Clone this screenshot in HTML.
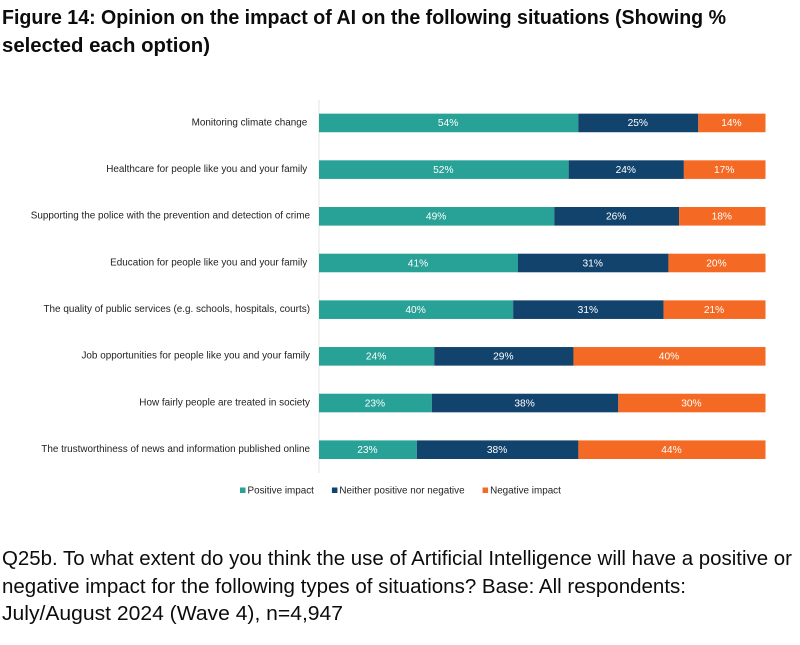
<!DOCTYPE html>
<html lang="en">
<head>
<meta charset="utf-8">
<title>Figure 14</title>
<style>
html,body{margin:0;padding:0;background:#fff;width:800px;height:645px;overflow:hidden}
svg{display:block;font-family:"Liberation Sans",sans-serif}
.head{font-weight:700;font-size:20.5px;fill:#0b0c0c}
.note{font-size:20px;fill:#0b0c0c}
</style>
</head>
<body>
<svg id="chart" width="800" height="645" viewBox="0 0 800 645" xmlns="http://www.w3.org/2000/svg">
  <rect width="800" height="645" fill="#ffffff"/>
  <text class="head" x="2" y="24" textLength="724" lengthAdjust="spacingAndGlyphs">Figure 14: Opinion on the impact of AI on the following situations (Showing %</text>
  <text class="head" x="2" y="52" textLength="208" lengthAdjust="spacingAndGlyphs">selected each option)</text>
  <line x1="319" x2="319" y1="100" y2="473" stroke="#e3e3e3" stroke-width="1"/>
  <g id="bars"></g>
  <g id="labels"></g>
  <g id="legend"></g>
  <text class="note" x="2" y="565" textLength="790" lengthAdjust="spacingAndGlyphs">Q25b. To what extent do you think the use of Artificial Intelligence will have a positive or</text>
  <text class="note" x="2" y="593" textLength="684" lengthAdjust="spacingAndGlyphs">negative impact for the following types of situations? Base: All respondents:</text>
  <text class="note" x="2" y="620" textLength="341" lengthAdjust="spacingAndGlyphs">July/August 2024 (Wave 4), n=4,947</text>
</svg>
<script>
const categories = [
  "Monitoring climate change\u00a0",
  "Healthcare for people like you and your family\u00a0",
  "Supporting the police with the prevention and detection of crime",
  "Education for people like you and your family\u00a0",
  "The quality of public services (e.g. schools, hospitals, courts)",
  "Job opportunities for people like you and your family",
  "How fairly people are treated in society",
  "The trustworthiness of news and information published online"
];
const seriesNames = ["Positive impact", "Neither positive nor negative", "Negative impact"];
const positiveValues = [54, 52, 49, 41, 40, 24, 23, 23];
const neitherValues = [25, 24, 26, 31, 31, 29, 38, 38];
const negativeValues = [14, 17, 18, 20, 21, 40, 30, 44];
const seriesColors = ["#28a197", "#12436d", "#f46a25"];

const NS = "http://www.w3.org/2000/svg";
const plotLeft = 319, plotWidth = 446.5, plotTop = 99.3, rowStep = 46.68, barHeight = 18.6;
const allSeries = [positiveValues, neitherValues, negativeValues];

function xShare(share) { return plotLeft + share * plotWidth; }
function rowCenter(i) { return plotTop + rowStep * (i + 0.5); }

const barsGroup = document.getElementById("bars");
const labelsGroup = document.getElementById("labels");
const legendGroup = document.getElementById("legend");

categories.forEach(function (name, i) {
  const label = document.createElementNS(NS, "text");
  
  
  label.setAttribute("x", 310);
  label.setAttribute("y", rowCenter(i) + 2.7);
  label.setAttribute("text-anchor", "end");
  label.setAttribute("font-size", "9.92");
  label.setAttribute("fill", "#222222");
  label.setAttribute("xml:space", "preserve");
  label.textContent = name;
  labelsGroup.appendChild(label);

  const total = positiveValues[i] + neitherValues[i] + negativeValues[i];
  let cumulative = 0;
  allSeries.forEach(function (values, s) {
    const start = xShare(cumulative / total);
    cumulative += values[i];
    const end = xShare(cumulative / total);

    const bar = document.createElementNS(NS, "rect");
    
    
    bar.setAttribute("x", start);
    bar.setAttribute("y", rowCenter(i) - barHeight / 2 + 0.3);
    bar.setAttribute("width", end - start);
    bar.setAttribute("height", barHeight);
    bar.setAttribute("fill", seriesColors[s]);
    barsGroup.appendChild(bar);

    const value = document.createElementNS(NS, "text");
    
    
    value.setAttribute("x", (start + end) / 2 - 0.5);
    value.setAttribute("y", rowCenter(i) + 3.6);
    value.setAttribute("text-anchor", "middle");
    value.setAttribute("font-size", "10.2");
    value.setAttribute("fill", "#ffffff");
    value.textContent = values[i] + "%";
    barsGroup.appendChild(value);
  });
});

let legendX = 240;
seriesNames.forEach(function (name, s) {
  const swatch = document.createElementNS(NS, "rect");
  
  
  swatch.setAttribute("x", legendX);
  swatch.setAttribute("y", 487.5);
  swatch.setAttribute("width", 5.5);
  swatch.setAttribute("height", 5.5);
  swatch.setAttribute("fill", seriesColors[s]);
  legendGroup.appendChild(swatch);

  const text = document.createElementNS(NS, "text");
  
  
  text.setAttribute("x", legendX + 7.5);
  text.setAttribute("y", 493.3);
  text.setAttribute("font-size", "9.9");
  text.setAttribute("fill", "#222222");
  text.textContent = name;
  legendGroup.appendChild(text);

  legendX += 7.5 + text.getComputedTextLength() + 18;
});
</script>
</body>
</html>
